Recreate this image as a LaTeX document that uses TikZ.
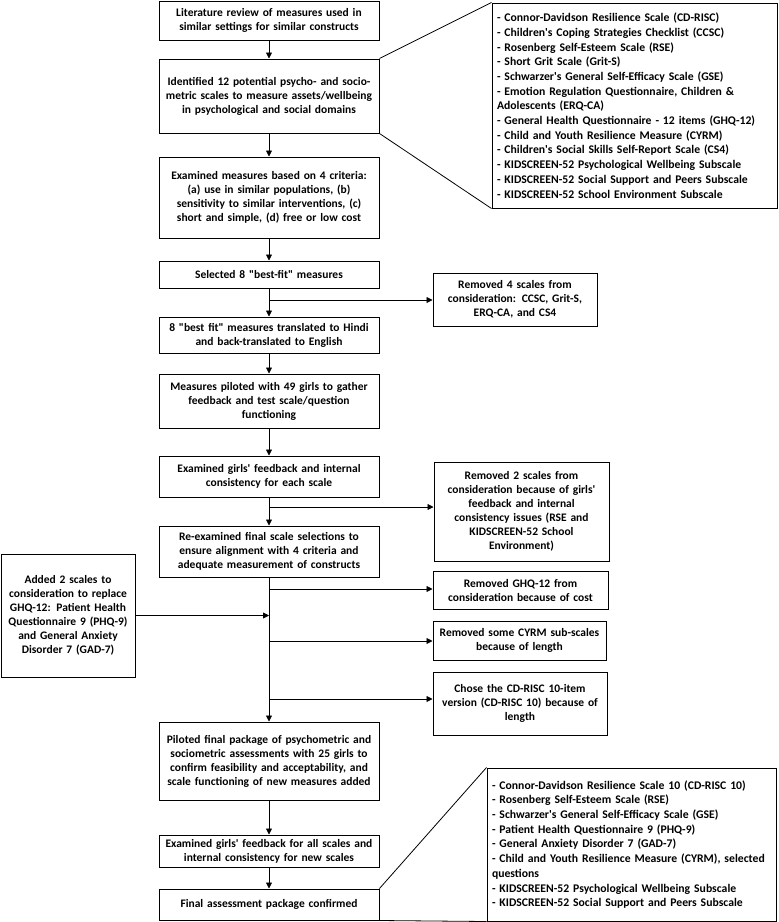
\documentclass[tikz,border=0pt]{standalone}
\usepackage{fontspec}
\setmainfont{Carlito}
\usetikzlibrary{arrows.meta}
\newcommand\nohyph{\hyphenpenalty=10000\relax\exhyphenpenalty=10000\relax}
\tikzset{
  box/.style={draw, line width=1pt, rectangle, inner sep=0pt, align=center,
    font=\fontsize{11.5}{14}\selectfont\bfseries},
  listbox/.style={draw, line width=1pt, rectangle, inner sep=0pt, align=left,
    font=\fontsize{11.7}{14.7}\selectfont\bfseries\nohyph},
  arr/.style={line width=0.8pt, -{Triangle[length=6pt,width=6pt]}},
  ln/.style={line width=0.8pt}
}
\newcommand\bx[7][box]{%
  \pgfmathsetmacro\bw{#5-#3}\pgfmathsetmacro\bh{#6-#4}\pgfmathsetmacro\tw{#5-#3-10}%
  \node[#1, minimum width=\bw pt, minimum height=\bh pt, text width=\tw pt]
    (#2) at ({(#3+#5)/2},{(#4+#6)/2}) {#7};}
\newcommand\q{\textquotedbl}
\newcommand\ap{\textquotesingle}
\begin{document}
\begin{tikzpicture}[x=1pt,y=-1pt]
\useasboundingbox (0,0) rectangle (779,922);
% main column
\bx{b1}{159}{1}{379}{40}{Literature review of measures used in\\similar settings for similar constructs}
\bx{b2}{159}{59}{379}{133}{Identified 12 potential psycho- and socio-\\metric scales to measure assets/wellbeing\\in psychological and social domains}
\bx{b3}{159}{157}{379}{238}{Examined measures based on 4 criteria:\\(a) use in similar populations, (b)\\sensitivity to similar interventions, (c)\\short and simple, (d) free or low cost}
\bx{b4}{159}{261}{379}{288}{Selected 8 \q best-fit\q{} measures}
\bx{b5}{159}{317}{379}{353}{8 \q best fit\q{} measures translated to Hindi\\and back-translated to English}
\bx{b6}{159}{374}{379}{428}{Measures piloted with 49 girls to gather\\feedback and test scale/question\\functioning}
\bx{b7}{159}{456}{379}{497}{Examined girls\ap{} feedback and internal\\consistency for each scale}
\bx{b8}{159}{526}{379}{577}{Re-examined final scale selections to\\ensure alignment with 4 criteria and\\adequate measurement of constructs}
\bx{b9}{159}{722}{379}{800}{Piloted final package of psychometric and\\sociometric assessments with 25 girls to\\confirm feasibility and acceptability, and\\scale functioning of new measures added}
\bx{b10}{159}{835}{379}{867}{Examined girls\ap{} feedback for all scales and\\internal consistency for new scales}
\bx{b11}{159}{889}{379}{920}{Final assessment package confirmed}
% right boxes
\bx[listbox]{r1}{492}{3}{777}{208}{- Connor-Davidson Resilience Scale (CD-RISC)\\- Children\ap s Coping Strategies Checklist (CCSC)\\- Rosenberg Self-Esteem Scale (RSE)\\- Short Grit Scale (Grit-S)\\- Schwarzer\ap s General Self-Efficacy Scale (GSE)\\- Emotion Regulation Questionnaire, Children \&\\Adolescents (ERQ-CA)\\- General Health Questionnaire - 12 items (GHQ-12)\\- Child and Youth Resilience Measure (CYRM)\\- Children\ap s Social Skills Self-Report Scale (CS4)\\- KIDSCREEN-52 Psychological Wellbeing Subscale\\- KIDSCREEN-52 Social Support and Peers Subscale\\- KIDSCREEN-52 School Environment Subscale}
\bx{r2}{433}{273}{597}{326}{Removed 4 scales from\\consideration: CCSC, Grit-S,\\ERQ-CA, and CS4}
\bx{r3}{434}{462}{609}{561}{Removed 2 scales from\\consideration because of girls\ap\\feedback and internal\\consistency issues (RSE and\\KIDSCREEN-52 School\\Environment)}
\bx{r4}{433}{571}{608}{609}{Removed GHQ-12 from\\consideration because of cost}
\bx{r5}{433}{621}{606}{660}{Removed some CYRM sub-scales\\because of length}
\bx{r6}{433}{672}{607}{735}{Chose the CD-RISC 10-item\\version (CD-RISC 10) because of\\length}
\bx[listbox]{r7}{487}{768}{776}{921}{- Connor-Davidson Resilience Scale 10 (CD-RISC 10)\\- Rosenberg Self-Esteem Scale (RSE)\\- Schwarzer\ap s General Self-Efficacy Scale (GSE)\\- Patient Health Questionnaire 9 (PHQ-9)\\- General Anxiety Disorder 7 (GAD-7)\\- Child and Youth Resilience Measure (CYRM), selected\\questions\\- KIDSCREEN-52 Psychological Wellbeing Subscale\\- KIDSCREEN-52 Social Support and Peers Subscale}
% left box
\bx{l1}{1}{554}{135}{677}{Added 2 scales to\\consideration to replace\\GHQ-12: Patient Health\\Questionnaire 9 (PHQ-9)\\and General Anxiety\\Disorder 7 (GAD-7)}
% vertical arrows
\foreach \a/\b in {b1/b2,b2/b3,b3/b4,b4/b5,b5/b6,b6/b7,b7/b8,b8/b9,b9/b10,b10/b11}
  \draw[arr] (\a.south) -- (\b.north);
% branches
\coordinate (j2) at (269,300);
\coordinate (j3) at (269,507);
\coordinate (j4) at (269,589);
\coordinate (j5) at (269,641);
\coordinate (j6) at (269,699);
\draw[arr] (j2) -- (j2 -| r2.west);
\draw[arr] (j3) -- (j3 -| r3.west);
\draw[arr] (j4) -- (j4 -| r4.west);
\draw[arr] (j5) -- (j5 -| r5.west);
\draw[arr] (j6) -- (j6 -| r6.west);
\draw[arr] (l1.east) -- (l1.east -| b8.south);
% expansion lines
\draw[ln] (b2.north east) -- (r1.north west);
\draw[ln] (b2.south east) -- (r1.south west);
\draw[ln] (b11.north east) -- (r7.north west);
\draw[ln] (b11.south east) -- (r7.south west);
\end{tikzpicture}
\end{document}
